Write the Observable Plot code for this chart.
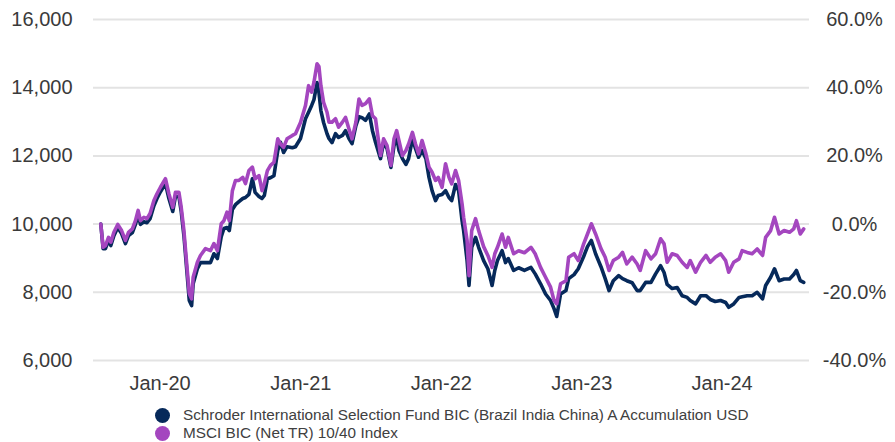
<!DOCTYPE html>
<html>
<head>
<meta charset="utf-8">
<script src="https://cdn.jsdelivr.net/npm/d3@7"></script>
<script src="https://cdn.jsdelivr.net/npm/@observablehq/plot@0.6"></script>
<style>
  html, body { margin: 0; padding: 0; background: #fff; overflow: hidden; }
  body { font-family: "Liberation Sans", Arial, sans-serif; width: 895px; height: 442px; }
  #legend { padding-top: 6px; padding-left: 155px; font-size: 15.3px; color: #404040; }
  .row { display: flex; align-items: center; height: 18px; white-space: nowrap; }
  .dot { display: inline-block; width: 15px; height: 15px; border-radius: 50%; margin-right: 13px; flex: none; }
</style>
</head>
<body>
<div id="chart"></div>
<div id="legend"></div>
<script>
const seriesNames = [
  "Schroder International Selection Fund BIC (Brazil India China) A Accumulation USD",
  "MSCI BIC (Net TR) 10/40 Index"
];
const seriesColors = ["#06295a", "#a446bf"];

const dates = [
"2019-07-31","2019-08-06","2019-08-12","2019-08-20","2019-08-26","2019-09-03","2019-09-13","2019-09-23","2019-10-03","2019-10-11",
"2019-10-21","2019-10-29","2019-11-05","2019-11-11","2019-11-20","2019-11-28","2019-12-06","2019-12-16","2019-12-24","2020-01-02",
"2020-01-15","2020-01-24","2020-02-03","2020-02-10","2020-02-19","2020-02-25","2020-03-03","2020-03-11","2020-03-17","2020-03-23",
"2020-03-27","2020-04-07","2020-04-15","2020-04-28","2020-05-11","2020-05-20","2020-05-29","2020-06-08","2020-06-15","2020-06-23",
"2020-06-29","2020-07-07","2020-07-15","2020-07-24","2020-08-03","2020-08-10","2020-08-19","2020-08-28","2020-09-04","2020-09-14",
"2020-09-22","2020-09-28","2020-10-06","2020-10-14","2020-10-23","2020-11-02","2020-11-09","2020-11-17","2020-11-26","2020-12-10",
"2020-12-18","2020-12-31","2021-01-13","2021-01-21","2021-01-29","2021-02-04","2021-02-12","2021-02-17","2021-02-22","2021-03-01",
"2021-03-10","2021-03-15","2021-03-23","2021-04-01","2021-04-09","2021-04-19","2021-04-27","2021-05-06","2021-05-14","2021-05-24",
"2021-06-01","2021-06-09","2021-06-18","2021-06-28","2021-07-06","2021-07-14","2021-07-27","2021-08-04","2021-08-13","2021-08-23",
"2021-08-31","2021-09-07","2021-09-13","2021-09-22","2021-10-01","2021-10-08","2021-10-18","2021-10-26","2021-11-03","2021-11-12",
"2021-11-22","2021-11-30","2021-12-08","2021-12-17","2021-12-24","2022-01-03","2022-01-12","2022-01-21","2022-01-28","2022-02-07",
"2022-02-15","2022-02-24","2022-02-28","2022-03-09","2022-03-14","2022-03-21","2022-03-31","2022-04-08","2022-04-21","2022-05-02",
"2022-05-10","2022-05-13","2022-05-20","2022-05-27","2022-06-08","2022-06-17","2022-06-24","2022-07-08","2022-07-21","2022-08-05",
"2022-08-22","2022-09-02","2022-09-16","2022-09-29","2022-10-12","2022-10-21","2022-10-28","2022-11-07","2022-11-21","2022-11-28",
"2022-12-12","2022-12-23","2023-01-06","2023-01-16","2023-01-26","2023-02-06","2023-02-20","2023-03-03","2023-03-13","2023-03-24",
"2023-04-07","2023-04-17","2023-04-28","2023-05-12","2023-05-25","2023-06-02","2023-06-16","2023-06-30","2023-07-12","2023-07-25",
"2023-08-03","2023-08-11","2023-08-24","2023-09-06","2023-09-19","2023-10-02","2023-10-10","2023-10-24","2023-11-06","2023-11-20",
"2023-12-01","2023-12-14","2023-12-28","2024-01-10","2024-01-18","2024-01-31","2024-02-14","2024-02-22","2024-03-06","2024-03-19",
"2024-04-01","2024-04-15","2024-04-23","2024-05-06","2024-05-16","2024-05-28","2024-06-10","2024-06-24","2024-07-05","2024-07-12",
"2024-07-22","2024-07-31"
];

const fundValues = [
10000,9280,9280,9520,9370,9660,9900,9720,9430,9660,
9750,9990,10280,9990,10070,10040,10160,10540,10750,10950,
11190,10750,10370,10810,10810,10370,9660,8580,7760,7610,
8250,8690,8870,8870,8870,9130,8990,9630,9870,9900,
9810,10430,10570,10660,10750,10780,10870,11330,10930,10810,
10750,10840,11330,11360,11420,12160,12400,12100,12270,12240,
12270,12510,13090,13280,13480,13650,14150,13860,13330,12980,
12650,12510,12390,12650,12540,12600,12740,12510,12360,12890,
13150,13120,13040,13230,12740,12400,11920,12390,12210,11660,
12300,12540,12160,11920,11750,11920,12500,12210,11960,12160,
11920,11370,10980,10690,10840,10870,10980,10780,10690,11160,
10980,10100,9810,8930,8200,9320,9610,9320,8930,8690,
8340,8200,8640,8930,9220,8870,8990,8640,8720,8640,
8730,8540,8250,7950,7760,7520,7290,7950,8050,8400,
8520,8690,9050,9340,9520,9130,8750,8400,8050,8340,
8490,8400,8340,8280,8050,8050,8290,8290,8540,8780,
8580,8230,8110,8140,7900,7850,7760,7660,7900,7900,
7790,7730,7760,7700,7560,7660,7850,7870,7900,7900,
8000,7810,8200,8440,8690,8340,8390,8390,8520,8640,
8340,8290
];

const indexValues = [
10000,9320,9370,9610,9470,9760,9990,9810,9520,9760,
9860,10100,10400,10100,10200,10160,10310,10690,10890,11080,
11330,10890,10490,10930,10930,10490,9810,8730,7960,7810,
8440,8880,9080,9280,9220,9430,9220,10010,10100,10350,
10100,10980,11280,11280,11370,11190,11570,11670,11330,11420,
10980,11190,11570,11720,11810,12500,12350,12250,12500,12600,
12650,12980,13480,14060,13870,14160,14700,14620,14060,13570,
13280,12990,12990,13090,12840,12990,13130,12790,12500,12990,
13670,13480,13530,13670,13180,13090,12010,12500,12300,11720,
12500,12740,12450,12010,12160,12350,12690,12350,12060,12450,
12060,11670,11520,11280,11370,11080,11770,11370,11180,11570,
11280,10590,10200,9520,8490,9810,10160,9810,9340,9080,
8830,8730,9130,9320,9710,9320,9610,9130,9220,9160,
9320,9130,8730,8440,8150,7760,7660,8250,8340,9030,
9130,8930,9420,9710,10010,9710,9280,9030,8640,8930,
9030,9170,8830,9030,8830,8640,9220,8980,9130,9570,
9420,8880,9130,9080,8880,8730,8930,8590,8880,9080,
8880,9030,9130,8930,8590,8880,8980,9220,9170,9130,
9270,9080,9610,9810,10200,9710,9810,9760,9860,10100,
9710,9860
];

const leftTicks = [6000, 8000, 10000, 12000, 14000, 16000];
const leftTickLabels = ["6,000", "8,000", "10,000", "12,000", "14,000", "16,000"];
const rightTickLabels = ["-40.0%", "-20.0%", "0.0%", "20.0%", "40.0%", "60.0%"];
const xTickDates = ["2020-01-01", "2021-01-01", "2022-01-01", "2023-01-01", "2024-01-01"];
const xTickLabels = ["Jan-20", "Jan-21", "Jan-22", "Jan-23", "Jan-24"];
const xDomain = ["2019-07-12", "2024-08-15"];

const parsed = dates.map(d => new Date(d));
const fundRows = parsed.map((d, i) => ({date: d, value: fundValues[i]}));
const indexRows = parsed.map((d, i) => ({date: d, value: indexValues[i]}));

const leftMap = new Map(leftTicks.map((t, i) => [t, leftTickLabels[i]]));
const rightMap = new Map(leftTicks.map((t, i) => [t, rightTickLabels[i]]));
const xTicks = xTickDates.map(d => new Date(d));
const xMap = new Map(xTicks.map((t, i) => [+t, xTickLabels[i]]));

const chart = Plot.plot({
  width: 895,
  height: 400,
  marginTop: 19,
  marginBottom: 40,
  marginLeft: 93,
  marginRight: 86,
  style: {fontFamily: "'Liberation Sans', Arial, sans-serif", fontSize: "20px", color: "#3a3a3a", background: "#fff"},
  x: {type: "utc", domain: xDomain.map(d => new Date(d))},
  y: {domain: [6000, 16000]},
  marks: [
    Plot.gridY(leftTicks, {stroke: "#e3e3e3", strokeOpacity: 1, strokeWidth: 2}),
    Plot.axisY(leftTicks, {anchor: "left", tickSize: 0, tickPadding: 21, tickFormat: d => leftMap.get(d), label: null, fontSize: 20}),
    Plot.axisY(leftTicks, {anchor: "right", tickSize: 0, tickPadding: 45, textAnchor: "middle", tickFormat: d => rightMap.get(d), label: null, fontSize: 20}),
    Plot.axisX(xTicks, {tickSize: 0, tickPadding: 15, tickFormat: d => xMap.get(+d), label: null, fontSize: 20}),
    Plot.lineY(fundRows, {x: "date", y: "value", stroke: seriesColors[0], strokeWidth: 3.6}),
    Plot.lineY(indexRows, {x: "date", y: "value", stroke: seriesColors[1], strokeWidth: 3.6})
  ]
});
document.getElementById("chart").appendChild(chart);

const legend = document.getElementById("legend");
seriesNames.forEach((name, i) => {
  const row = document.createElement("div");
  row.className = "row";
  const dot = document.createElement("span");
  dot.className = "dot";
  dot.style.background = seriesColors[i];
  row.appendChild(dot);
  row.appendChild(document.createTextNode(name));
  legend.appendChild(row);
});
</script>
</body>
</html>
